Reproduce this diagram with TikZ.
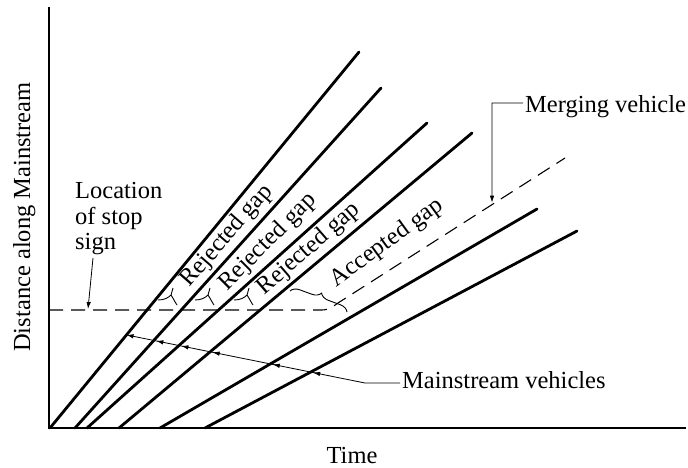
\documentclass[tikz,border=0pt]{standalone}
\usepackage{fontspec}
\setmainfont{Liberation Serif}
\usetikzlibrary{arrows.meta,decorations.pathreplacing,calc}
\begin{document}
\begin{tikzpicture}[x=1pt,y=-1pt,
  veh/.style={line width=2.8pt,line cap=round},
  axis/.style={line width=1.8pt},
  ptr/.style={line width=0.8pt},
  lbl/.style={font=\fontsize{24.5}{28}\selectfont, inner sep=0pt},
  merge/.style={line width=1.1pt, dash pattern=on 14pt off 8pt},
  tip/.style={-{Latex[length=7pt,width=4.5pt]}},
  gapbrace/.style={decorate, decoration={brace, amplitude=9pt}, line width=0.9pt},
  ymark/.pic={
    \draw[line width=0.9pt] (-13,5) .. controls (-7,5) and (-3,3) .. (0,0) -- (2,-7);
    \draw[line width=0.9pt] (6,10) .. controls (4,7) and (2,3) .. (0,0);
  }
]
\useasboundingbox (0,0) rectangle (688,467);

% axes
\coordinate (Ytop) at (49,7);
\coordinate (O) at (49,428);
\coordinate (Xend) at (686,428);
\draw[axis] (Ytop) -- (O) -- (Xend);

% mainstream vehicle trajectories
\coordinate (La1) at (50,428);  \coordinate (Lb1) at (359,52);
\coordinate (La2) at (75,428);  \coordinate (Lb2) at (381,88);
\coordinate (La3) at (87,428);  \coordinate (Lb3) at (427,123);
\coordinate (La4) at (119,428); \coordinate (Lb4) at (472,133);
\coordinate (La5) at (160,428); \coordinate (Lb5) at (537,209);
\coordinate (La6) at (205,428); \coordinate (Lb6) at (577,231);
\foreach \i in {1,...,6} { \draw[veh] (La\i) -- (Lb\i); }

% stop line and merging vehicle
\coordinate (S0) at (49,310);
\coordinate (S1) at (318,310);
\coordinate (S2) at (338,303);
\coordinate (M1) at (565,158);
\draw[merge] (S0) -- (S1) .. controls (328,310) .. (S2) -- (M1);

% gap marks
\pic at (171,295) {ymark};
\pic at (208,295) {ymark};
\pic at (247,295) {ymark};
\coordinate (Ba) at (290,291);
\coordinate (Bb) at (347,312);
\draw[gapbrace] (Ba) -- (Bb);

% gap labels
\node[lbl, rotate=49] (rg1) at (227,236) {Rejected gap};
\node[lbl, rotate=45] (rg2) at (268,242) {Rejected gap};
\node[lbl, rotate=41] (rg3) at (309,249) {Rejected gap};
\node[lbl, rotate=36] (ag)  at (387,243) {Accepted gap};

% axis labels
\node[lbl, rotate=90, anchor=base] (ylab) at (30,217) {Distance along Mainstream};
\node[lbl, anchor=base] (xlab) at (352,463) {Time};

% location of stop sign
\node[lbl, anchor=base west] (loc1) at (75,198) {Location};
\node[lbl, anchor=base west] (loc2) at (75,224) {of stop};
\node[lbl, anchor=base west] (loc3) at (75,249) {sign};
\coordinate (LA) at (93,258);
\coordinate (LB) at (88,309);
\draw[ptr,tip] (LA) -- (LB);

% merging vehicle
\node[lbl, anchor=base west] (mg) at (525,112) {Merging vehicle};
\coordinate (MV1) at (492,103);
\coordinate (MVd) at (492,300);
\coordinate (MV2) at (intersection of MV1--MVd and S2--M1);
\draw[ptr,tip] ([xshift=-2pt]MV1 -| mg.west) -- (MV1) -- ([yshift=2pt]MV2);

% mainstream vehicles
\node[lbl, anchor=base west] (mv) at (402,388) {Mainstream vehicles};
\coordinate (P1) at (365,383);
\coordinate (Q) at (127,335);
\coordinate (C1) at (intersection of P1--Q and La1--Lb1);
\draw[ptr,tip] ([xshift=-2pt]P1 -| mv.west) -- (P1) -- (C1);
\foreach \i in {2,...,6} {
  \coordinate (C\i) at (intersection of P1--C1 and La\i--Lb\i);
  \draw[ptr,tip] ($(C\i)!10pt!(P1)$) -- ($(C\i)!2.5pt!(P1)$);
}
\end{tikzpicture}
\end{document}
